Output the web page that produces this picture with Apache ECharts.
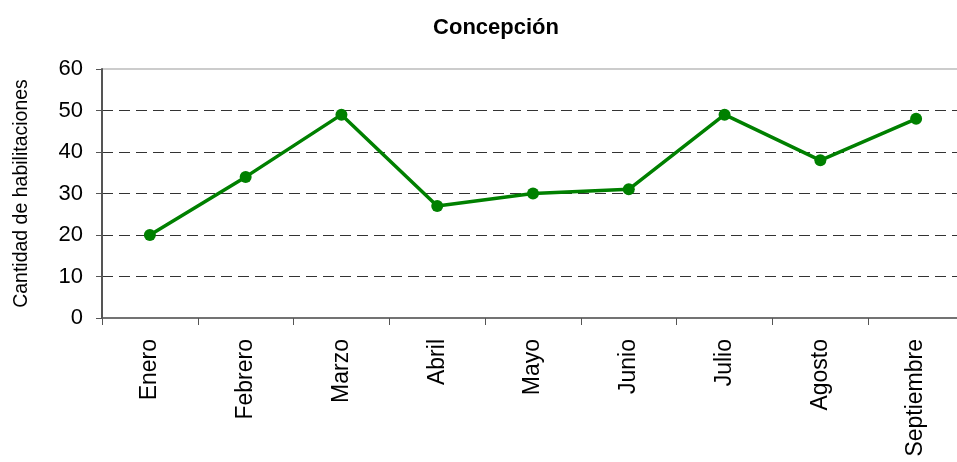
<!DOCTYPE html>
<html>
<head>
<meta charset="utf-8">
<script src="https://cdn.jsdelivr.net/npm/echarts@6/dist/echarts.min.js"></script>
<style>
html,body{margin:0;padding:0;background:#fff;overflow:hidden;width:957px;height:462px;}
#c{width:964px;height:462px;}
</style>
</head>
<body>
<div id="c"></div>
<script>
const months = ['Enero','Febrero','Marzo','Abril','Mayo','Junio','Julio','Agosto','Septiembre'];
const habilitaciones = [20, 34, 49, 27, 30, 31, 49, 38, 48];
const chartTitle = 'Concepción';
const yAxisName = 'Cantidad de habilitaciones';

const chart = echarts.init(document.getElementById('c'), null, {renderer:'canvas'});
chart.setOption({
  animation: false,
  backgroundColor: '#fff',
  title: {
    text: chartTitle,
    left: 491, top: 12, textAlign: 'center',
    textStyle: {fontFamily: 'Liberation Sans, Arial', fontWeight: 'bold', fontSize: 22, color: '#000'}
  },
  grid: {
    left: 102, top: 69, right: 0, bottom: 144,
    outerBoundsMode: 'none',
    containLabel: false,
    show: true, borderColor: '#999', borderWidth: 1, backgroundColor: 'transparent'
  },
  xAxis: {
    type: 'category',
    data: months,
    boundaryGap: true,
    nameMoveOverlap: false,
    axisLine: {lineStyle: {color: '#555', width: 1.5}},
    axisTick: {show: true, alignWithLabel: false, length: 7, lineStyle: {color: '#555'}},
    axisLabel: {
      rotate: 90, margin: 21, interval: 0, hideOverlap: false,
      fontFamily: 'Liberation Sans, Arial', fontSize: 23, color: '#000'
    },
    splitLine: {show: false}
  },
  yAxis: {
    type: 'value',
    min: 0, max: 60, interval: 10,
    name: yAxisName,
    nameLocation: 'middle',
    nameGap: 70,
    nameMoveOverlap: false,
    nameTextStyle: {fontFamily: 'Liberation Sans, Arial', fontSize: 19.5, color: '#000'},
    axisLine: {show: true, lineStyle: {color: '#555', width: 2}},
    axisTick: {show: true, length: 6, lineStyle: {color: '#555'}},
    axisLabel: {margin: 19, fontFamily: 'Liberation Sans, Arial', fontSize: 22, color: '#000'},
    splitLine: {show: true, showMaxLine: false, showMinLine: false,
      lineStyle: {type: [11, 6], color: '#333', width: 1}}
  },
  series: [{
    type: 'line',
    data: habilitaciones,
    symbol: 'circle',
    symbolSize: 12,
    lineStyle: {color: '#008000', width: 3.5},
    itemStyle: {color: '#008000'}
  }]
});
</script>
</body>
</html>
